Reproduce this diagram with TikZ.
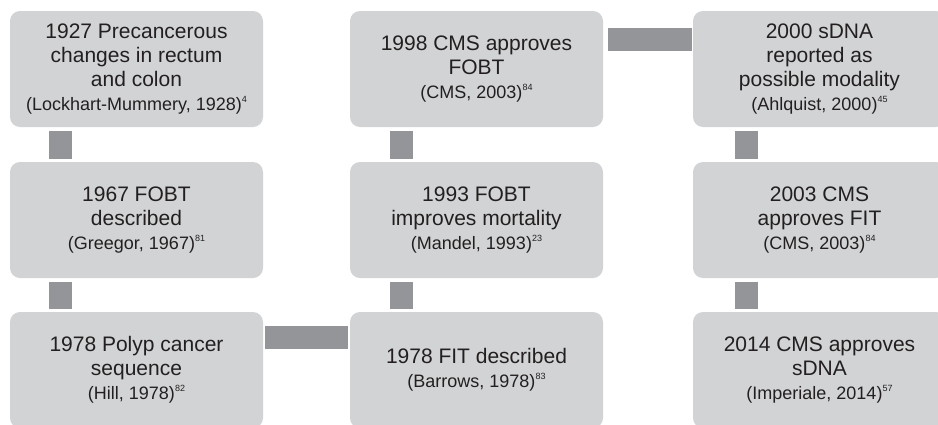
\documentclass[tikz,border=0pt]{standalone}
\usepackage{fontspec}
\setmainfont{Liberation Sans}
\usetikzlibrary{positioning}
\definecolor{boxgray}{HTML}{D1D3D4}
\definecolor{linkgray}{HTML}{939598}
\definecolor{inkblack}{HTML}{231F20}
\newcommand{\refnum}[1]{\raisebox{8pt}{\fontsize{9}{9}\selectfont #1}}
\newcommand{\citefont}{\fontsize{18}{23}\selectfont}
\tikzset{
	event/.style={fill=boxgray, rounded corners=10pt, minimum width=253pt, minimum height=116pt,
		inner sep=0pt, outer sep=0pt, align=center, text=inkblack, font=\fontsize{21}{24}\selectfont},
	link/.style={draw=linkgray, line width=23pt, line cap=butt}
}

\begin{document}
\begin{tikzpicture}[x=1pt,y=1pt]
	\useasboundingbox (0,0) rectangle (938,-424);
	% define nodes
	\node[event] (A) at (136.5,-69) {1927 Precancerous\\changes in rectum\\and colon\\{\citefont(Lockhart-Mummery, 1928)\refnum{4}}};
	\node[event, below=35pt of A] (B) {1967 FOBT\\described\\{\citefont(Greegor, 1967)\refnum{81}}};
	\node[event, below=34pt of B] (C) {1978 Polyp cancer\\sequence\\{\citefont(Hill, 1978)\refnum{82}}};
	\node[event, right=87pt of C] (D) {1978 FIT described\\{\citefont(Barrows, 1978)\refnum{83}}};
	\node[event, above=34pt of D] (E) {1993 FOBT\\improves mortality\\{\citefont(Mandel, 1993)\refnum{23}}};
	\node[event, above=35pt of E] (F) {1998 CMS approves\\FOBT\\{\citefont(CMS, 2003)\refnum{84}}};
	\node[event, right=90pt of F] (G) {2000 sDNA\\reported as\\possible modality\\{\citefont(Ahlquist, 2000)\refnum{45}}};
	\node[event, below=35pt of G] (H) {2003 CMS\\approves FIT\\{\citefont(CMS, 2003)\refnum{84}}};
	\node[event, below=34pt of H] (I) {2014 CMS approves\\sDNA\\{\citefont(Imperiale, 2014)\refnum{57}}};
	% links
	\draw[link, shorten <=3.5pt, shorten >=3.5pt] ([xshift=50.5pt]A.south west) -- ([xshift=50.5pt]B.north west);
	\draw[link, shorten <=3.5pt, shorten >=3.5pt] ([xshift=50.5pt]B.south west) -- ([xshift=50.5pt]C.north west);
	\draw[link, shorten <=2pt, shorten >=2pt] ([yshift=-25pt]C.north east) -- ([yshift=-25pt]D.north west);
	\draw[link, shorten <=3.5pt, shorten >=3.5pt] ([xshift=51.5pt]D.north west) -- ([xshift=51.5pt]E.south west);
	\draw[link, shorten <=3.5pt, shorten >=3.5pt] ([xshift=51.5pt]E.north west) -- ([xshift=51.5pt]F.south west);
	\draw[link, shorten <=5pt, shorten >=1pt] ([yshift=-28.5pt]F.north east) -- ([yshift=-28.5pt]G.north west);
	\draw[link, shorten <=3.5pt, shorten >=3.5pt] ([xshift=53pt]G.south west) -- ([xshift=53pt]H.north west);
	\draw[link, shorten <=3.5pt, shorten >=3.5pt] ([xshift=53pt]H.south west) -- ([xshift=53pt]I.north west);
\end{tikzpicture}
\end{document}
